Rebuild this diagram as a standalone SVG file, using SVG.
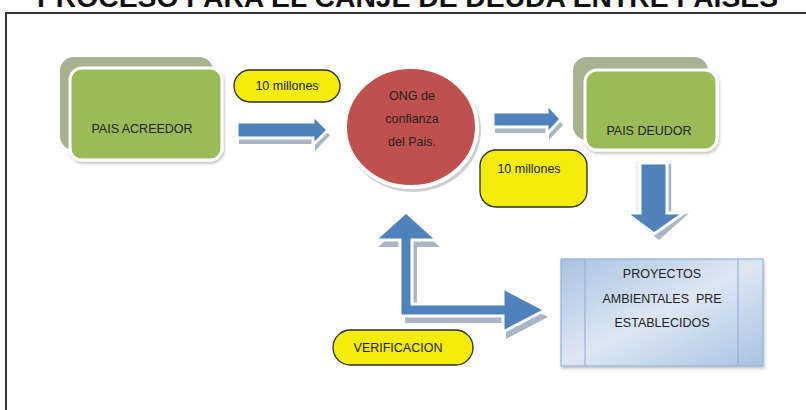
<svg xmlns="http://www.w3.org/2000/svg" width="806" height="410" viewBox="0 0 806 410">
<style>
.lbl{font-family:"Liberation Sans",Arial,sans-serif;font-size:12.5px;fill:#222;text-anchor:middle}
.title{font-family:"Liberation Sans",Arial,sans-serif;font-size:28px;font-weight:bold;fill:#111;text-anchor:middle}
.back{fill:#a7b390}
.front{fill:#9bbb59;stroke:#ffffff;stroke-width:3}
.pill{fill:#f4ec0a;stroke:#2b2b2b;stroke-width:1.3}
.arr{fill:#4f81bd;stroke:#ffffff;stroke-width:3;stroke-linejoin:miter}
.arrsh{fill:#aab6c6}
.glow{fill:#eef1f5}
</style>
<defs>
<linearGradient id="pg" x1="0" y1="0" x2="1" y2="1">
<stop offset="0" stop-color="#a9c2e2"/>
<stop offset="0.5" stop-color="#dde7f3"/>
<stop offset="1" stop-color="#a9c2e2"/>
</linearGradient>
<filter id="sh" x="-20%" y="-20%" width="140%" height="140%">
<feDropShadow dx="1" dy="2" stdDeviation="1.5" flood-color="#000" flood-opacity="0.25"/>
</filter>
</defs>
<rect x="0" y="0" width="806" height="410" fill="#ffffff"/>
<text class="title" x="407.5" y="6.5" textLength="741" lengthAdjust="spacingAndGlyphs">PROCESO PARA EL CANJE DE DEUDA ENTRE PAISES</text>
<rect x="6" y="13" width="830" height="430" fill="none" stroke="#333" stroke-width="2"/>

<g id="connectors">
<g id="arrow-acreedor-ong">
<path class="arrsh" d="M239,127 H315 V120 L330,135 L315,151 V144 H239 Z"/>
<path class="arr" d="M237,122 H313 V115 L328,130 L313,145 V138 H237 Z"/>
</g>
<g id="arrow-ong-deudor">
<path class="arrsh" d="M495,118 H549 V110 L563,125 L549,140 V133 H495 Z"/>
<path class="arr" d="M493,112 H547 V104 L561,119 L547,134 V127 H493 Z"/>
</g>
<g id="arrow-deudor-proyectos">
<path class="glow" d="M636,161 H672 V211 H690 L657,240 L624,211 H636 Z"/>
<path class="arrsh" d="M644,164 H671 V214 H688 L659,240 L630,214 H644 Z"/>
<path class="arr" d="M640,163 H667 V213 H684 L654,234 L626,213 H640 Z"/>
</g>
<g id="arrow-verificacion">
<path class="arrsh" d="M409,219 L440,247 L417,247 L417,311 L506,311 L506,295 L548,317 L506,339 L506,323 L405,323 L405,247 L378,247 Z"/>
<path class="arr" d="M406,212 L437,240 L412,240 L412,304 L503,304 L503,288 L545,310 L503,332 L503,316 L400,316 L400,240 L375,240 Z"/>
</g>
</g>

<g id="acreedor">
<rect class="back" x="60" y="57" width="153" height="93" rx="14"/>
<rect class="front" x="70" y="68" width="152" height="92" rx="12" filter="url(#sh)"/>
<text class="lbl" x="142" y="133">PAIS ACREEDOR</text>
</g>

<g id="millones1">
<rect class="pill" x="234" y="70" width="106" height="32" rx="16"/>
<text class="lbl" x="287" y="90">10 millones</text>
</g>

<g id="ong">
<ellipse cx="413" cy="130" rx="68" ry="62" fill="#cfcfcf"/>
<ellipse cx="411" cy="127" rx="66" ry="60" fill="#c0504d" stroke="#ffffff" stroke-width="4"/>
<text class="lbl" x="412" y="100">ONG de</text>
<text class="lbl" x="412" y="123">confianza</text>
<text class="lbl" x="412" y="146">del Pais.</text>
</g>

<g id="deudor">
<rect class="back" x="573" y="57" width="135" height="83" rx="14"/>
<rect class="front" x="585" y="70" width="132" height="80" rx="12" filter="url(#sh)"/>
<text class="lbl" x="649" y="135">PAIS DEUDOR</text>
</g>

<g id="millones2">
<rect class="pill" x="480" y="150" width="107" height="57" rx="16"/>
<text class="lbl" x="529" y="173">10 millones</text>
</g>

<g id="proyectos">
<rect x="561" y="259" width="202" height="107" fill="url(#pg)" stroke="#95b3d7" stroke-width="1.2" filter="url(#sh)"/>
<line x1="585" y1="259" x2="585" y2="366" stroke="#95b3d7" stroke-width="1.2"/>
<line x1="738" y1="259" x2="738" y2="366" stroke="#95b3d7" stroke-width="1.2"/>
<text class="lbl" x="662" y="278">PROYECTOS</text>
<text class="lbl" x="662" y="303" xml:space="preserve">AMBIENTALES  PRE</text>
<text class="lbl" x="662" y="327">ESTABLECIDOS</text>
</g>

<g id="verificacion">
<rect class="pill" x="333" y="330" width="140" height="35" rx="17.5"/>
<text class="lbl" x="398" y="352">VERIFICACION</text>
</g>
</svg>
